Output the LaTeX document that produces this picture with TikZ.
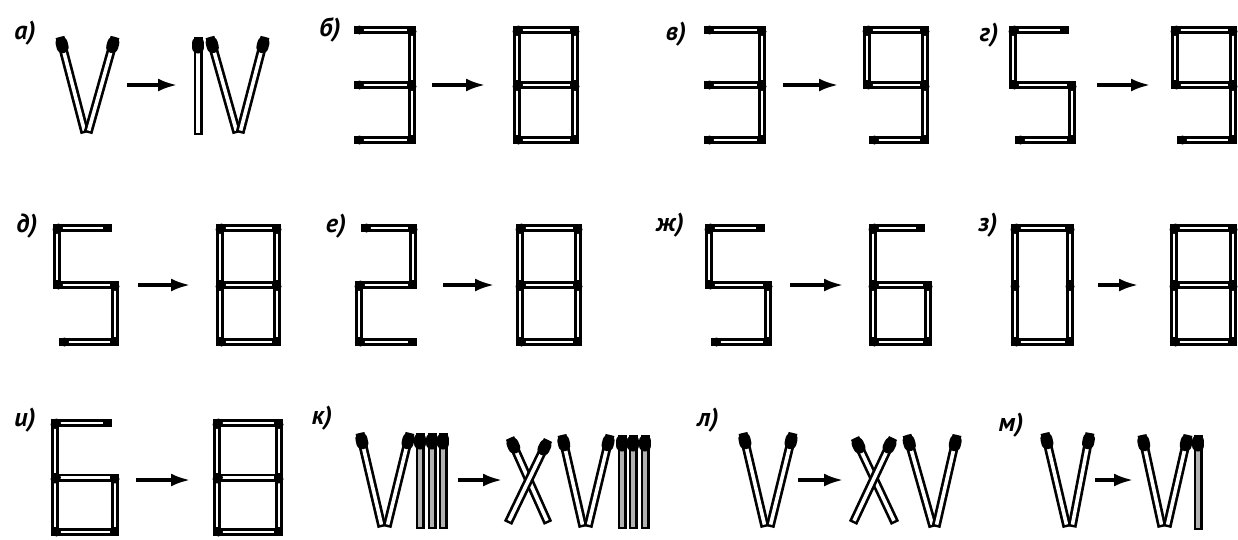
\documentclass[tikz,border=0pt]{standalone}
\usepackage{fontspec}
\setmainfont{PT Sans}
\usetikzlibrary{calc,arrows.meta}

\tikzset{
  mbody/.style={line width=9pt},
  minner/.style={white, line width=3.6pt},
  mhead/.style={line width=12pt, line cap=round},
  sbody/.style={line width=8pt, line cap=rect},
  sinner/.style={white, line width=2.6pt},
  move/.style={line width=3.2pt, -{Latex[length=19pt,width=13pt]}},
  tag/.style={font=\fontsize{26}{26}\selectfont\bfseries\itshape, inner sep=0pt},
}

% a match lying from its head #2 to its tail #3; #1 = colour of the inside
\newcommand\mymatch[3][white]{%
  \draw[mbody] #2 -- #3;
  \draw[minner,#1] ($#2!10pt!#3$) -- ($#3!2.5pt!#2$);
  \draw[mhead] ($#2!6pt!#3$) -- ($#2!10.5pt!#3$);
}

% a seven-segment figure made of matches:
% #1,#2 top-left corner, #3 width, #4 segment height, #5 list of segments head/tail
\newcommand\digit[5]{%
  \begin{scope}[shift={(#1,#2)}]
    \coordinate (TL) at (0,0);   \coordinate (TR) at (#3,0);
    \coordinate (ML) at (0,#4);  \coordinate (MR) at (#3,#4);
    \coordinate (BL) at (0,2*#4);\coordinate (BR) at (#3,2*#4);
    \coordinate (TLs) at (6,0);  \coordinate (TRs) at (#3-7,0);
    \coordinate (BLs) at (6,2*#4);
    \foreach \p/\q in {#5} \draw[sbody] (\p) -- (\q);
    \foreach \p/\q in {#5} \draw[sinner] ($(\p)!5pt!(\q)$) -- ($(\q)!5pt!(\p)$);
    \foreach \p/\q in {#5} \fill ($(\p)!1.5pt!(\q)$) circle (4.5pt);
  \end{scope}}

\begin{document}
\begin{tikzpicture}[x=1pt,y=-1pt]
\fill[white] (0,0) rectangle (1238,539);
\useasboundingbox (0,0) rectangle (1238,539);

% ---------- labels ----------
\node[tag] (la) at (25,33)   {а)};
\node[tag] (lb) at (330,30)  {б)};
\node[tag] (lv) at (676,34)  {в)};
\node[tag] (lg) at (989,35)  {г)};
\node[tag] (ld) at (27,226)  {д)};
\node[tag] (le) at (336,226) {е)};
\node[tag] (lzh) at (670,225) {ж)};
\node[tag] (lz) at (988,225) {з)};
\node[tag] (li) at (25,420)  {и)};
\node[tag] (lk) at (322,418) {к)};
\node[tag] (ll) at (708,420) {л)};
\node[tag] (lm) at (1011,425) {м)};

% ---------- arrows ----------
\foreach \n/\xa/\xb/\y in {a/127/177/85, b/432/485/85, v/783/838/85, g/1097/1150/85,
    d/138/190/285, e/443/494/285, zh/790/843/285, z/1098/1138/285,
    i/136/190/480, k/458/502/480, l/798/843/480, m/1095/1133/480}{
  \coordinate (s\n) at (\xa,\y);
  \coordinate (t\n) at (\xb,\y);
  \draw[move] (s\n) -- (t\n);
}

% ---------- а) V -> IV ----------
\mymatch{(60,37)}{(85,133)}
\mymatch{(115,37)}{(88,133)}
\mymatch{(198,37)}{(198,135)}
\mymatch{(210,37)}{(237,133)}
\mymatch{(265,37)}{(240,133)}

% ---------- row 1 digits ----------
\digit{358}{30}{54}{55}{TL/TR, TR/MR, ML/MR, MR/BR, BL/BR}
\digit{517}{30}{58}{55}{TL/TR, TL/ML, TR/MR, ML/MR, ML/BL, MR/BR, BL/BR}
\digit{708}{30}{54}{55}{TL/TR, TR/MR, ML/MR, MR/BR, BL/BR}
\digit{867}{30}{58}{55}{TL/TR, TL/ML, TR/MR, ML/MR, MR/BR, BLs/BR}
\digit{1013}{30}{59}{55}{TL/TRs, TL/ML, ML/MR, MR/BR, BLs/BR}
\digit{1175}{30}{58}{55}{TL/TR, TL/ML, TR/MR, ML/MR, MR/BR, BLs/BR}

% ---------- row 2 digits ----------
\digit{57}{228}{58}{57}{TL/TRs, TL/ML, ML/MR, MR/BR, BLs/BR}
\digit{220}{228}{57}{57}{TL/TR, TL/ML, TR/MR, ML/MR, ML/BL, MR/BR, BL/BR}
\digit{359}{228}{54}{57}{TLs/TR, TR/MR, ML/MR, ML/BL, BL/BR}
\digit{520}{228}{58}{57}{TL/TR, TL/ML, TR/MR, ML/MR, ML/BL, MR/BR, BL/BR}
\digit{709}{228}{59}{57}{TL/TRs, TL/ML, ML/MR, MR/BR, BLs/BR}
\digit{873}{228}{55}{57}{TL/TRs, TL/ML, ML/MR, ML/BL, MR/BR, BL/BR}
\digit{1015}{228}{55}{57}{TL/TR, TL/ML, ML/BL, TR/MR, MR/BR, BL/BR}
\digit{1174}{228}{59}{57}{TL/TR, TL/ML, TR/MR, ML/MR, ML/BL, MR/BR, BL/BR}

% ---------- и) 6 -> 8 ----------
\digit{55}{423}{60}{54.5}{TL/TRs, TL/ML, ML/MR, ML/BL, MR/BR, BL/BR}
\digit{217}{423}{62}{54.5}{TL/TR, TL/ML, TR/MR, ML/MR, ML/BL, MR/BR, BL/BR}

% ---------- к) VIII -> XVIII ----------
\mymatch{(360,433)}{(382,527)}
\mymatch{(410,433)}{(387,527)}
\mymatch[gray!60]{(420,433)}{(420,529)}
\mymatch[gray!60]{(432,433)}{(432,529)}
\mymatch[gray!60]{(443,433)}{(443,529)}
\mymatch{(510,438)}{(548,523)}
\mymatch{(548,440)}{(508,523)}
\mymatch{(562,435)}{(583,527)}
\mymatch{(610,435)}{(588,527)}
\mymatch[gray!60]{(622,435)}{(622,529)}
\mymatch[gray!60]{(633,435)}{(633,529)}
\mymatch[gray!60]{(645,435)}{(645,529)}

% ---------- л) V -> XV ----------
\mymatch{(743,433)}{(765,527)}
\mymatch{(793,433)}{(770,527)}
\mymatch{(855,438)}{(895,523)}
\mymatch{(893,438)}{(853,523)}
\mymatch{(907,435)}{(933,527)}
\mymatch{(957,435)}{(936,527)}

% ---------- м) V -> VI ----------
\mymatch{(1045,433)}{(1067,527)}
\mymatch{(1090,433)}{(1072,527)}
\mymatch{(1142,435)}{(1162,527)}
\mymatch{(1188,435)}{(1167,527)}
\mymatch[gray!60]{(1198,435)}{(1198,530)}
\end{tikzpicture}
\end{document}
